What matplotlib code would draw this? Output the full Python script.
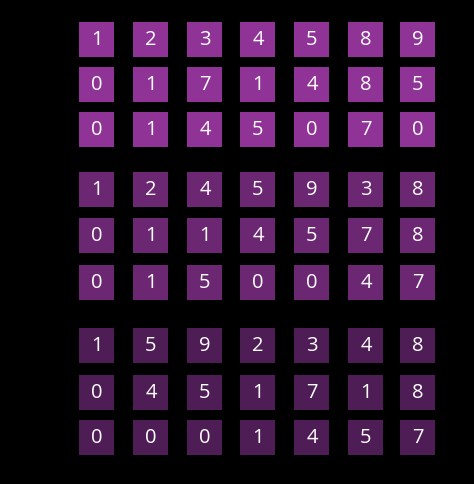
import matplotlib
matplotlib.use("Agg")
import matplotlib.pyplot as plt
from matplotlib.patches import Rectangle

group1 = [[1,2,3,4,5,8,9],[0,1,7,1,4,8,5],[0,1,4,5,0,7,0]]
group2 = [[1,2,4,5,9,3,8],[0,1,1,4,5,7,8],[0,1,5,0,0,4,7]]
group3 = [[1,5,9,2,3,4,8],[0,4,5,1,7,1,8],[0,0,0,1,4,5,7]]
groups = [group1, group2, group3]
group_colors = ["#8f3496", "#6c2773", "#4f1d56"]

col_x = [97, 151, 205, 258, 312, 366, 418]
row_y = [[40, 85, 130], [190, 236, 283], [346, 393, 438]]
size = 35

fig = plt.figure(figsize=(4.74, 4.85), dpi=100, facecolor="black")
ax = fig.add_axes([0, 0, 1, 1])
ax.set_facecolor("black")
ax.set_xlim(0, 474)
ax.set_ylim(485, 0)
ax.axis("off")

for g, grid in enumerate(groups):
    for r, row in enumerate(grid):
        for c, v in enumerate(row):
            x, y = col_x[c], row_y[g][r]
            ax.add_patch(Rectangle((x - size/2, y - size/2), size, size,
                                   facecolor=group_colors[g], edgecolor="none"))
            ax.text(x, y, str(v), color="white", fontsize=14.5,
                    ha="center", va="center", family="Open Sans")

fig.savefig("out.png", dpi=100, facecolor="black")
